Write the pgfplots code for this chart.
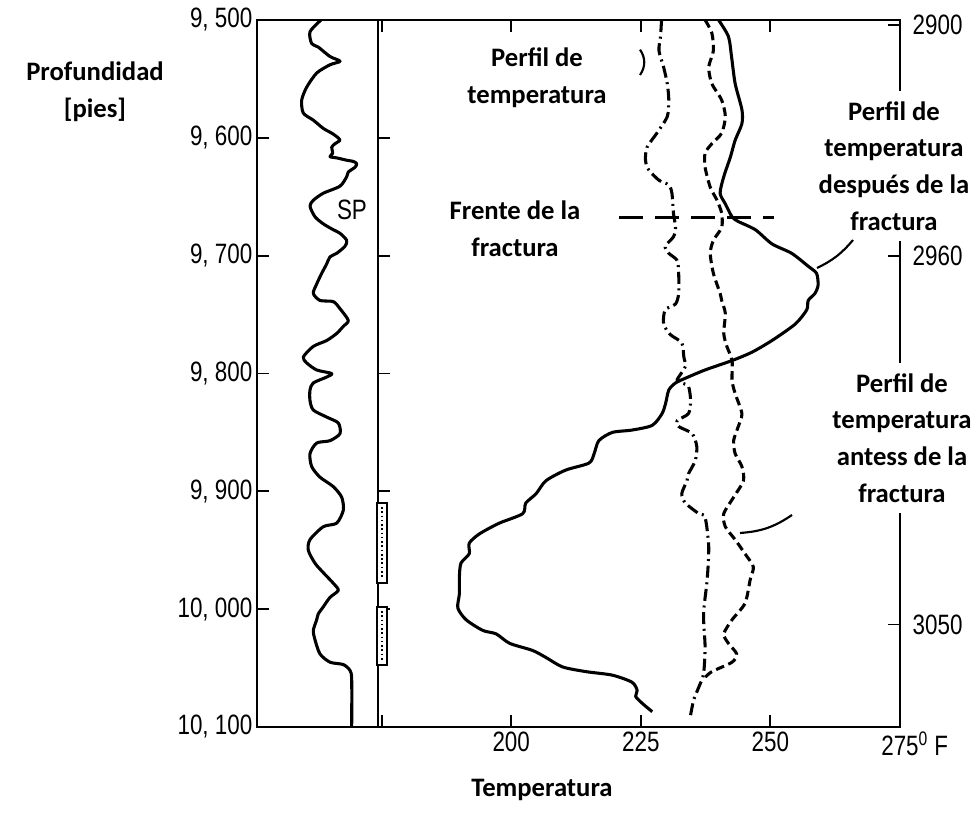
\documentclass[border=0pt]{standalone}
\usepackage{pgfplots}
\pgfplotsset{compat=1.18}
\usepackage{fontspec}
\setmainfont{Carlito}
\newfontfamily\cond[FakeStretch=0.8]{Liberation Sans}
\newcommand\tickfont{\cond\fontsize{21}{24}\selectfont}

\begin{document}
\begin{tikzpicture}
% page = 971 x 813 px, 1 px = 0.75pt, origin at lower left corner of temperature track
\useasboundingbox (-283.5pt,-64.5pt) rectangle (444.75pt,545.25pt);

\pgfplotsset{
  track/.style={
    scale only axis, height=530.25pt,
    y dir=reverse, ymin=9500, ymax=10100,
    axis line style={line width=1.6pt},
    tick style={line width=1.4pt, black},
    tick align=inside, major tick length=9pt,
    ticklabel style={font=\tickfont},
    yticklabel style={inner ysep=0pt},
    clip=false,
  },
  curve/.style={black, line width=2.3pt, smooth, tension=0.45, line join=round},
}

% SP track
\begin{axis}[track, at={(0pt,0pt)}, anchor=south east, width=90.75pt,
  xmin=0, xmax=121, xtick=\empty,
  ytick={9500,9600,9700,9800,9900,10000,10100}, ytick pos=left,
  yticklabels={{9, 500},{9, 600},{9, 700},{9, 800},{9, 900},{10, 000},{10, 100}},
]
\addplot[curve] coordinates {
(64,9500) (53,9510) (54.7,9520) (61.3,9523) (73,9531) (83,9535) (73,9538)
(59.7,9545) (49.7,9557) (44.7,9568) (46.3,9579) (56.3,9585) (66.3,9592)
(74.7,9596) (79.7,9599) (83,9602) (78,9605) (74.7,9608) (75.7,9613) (73,9616)
(79.7,9617) (89.7,9619) (96.3,9620) (99.7,9622) (98,9625) (91.3,9629)
(89.7,9633) (83,9641) (66.3,9647) (56.3,9653) (53,9658) (58,9667) (66.3,9673)
(76.3,9678) (83,9681) (89.7,9687) (88,9692) (79.7,9698) (73,9701) (69.7,9707)
(64.7,9715) (59.7,9724) (56.3,9732) (63,9738) (76.3,9739) (83,9745)
(91.3,9755) (86.3,9760) (79.7,9766) (69.7,9772) (56.3,9777) (46.3,9786)
(49.7,9791) (59.7,9797) (74.7,9800) (69.7,9803) (56.3,9808) (53,9814)
(53,9823) (56.3,9831) (69.7,9837) (81.3,9842) (83,9851) (73,9857) (59.7,9859)
(53,9868) (54.7,9879) (63,9888) (76.3,9896) (84.7,9905) (86.3,9916)
(79.7,9927) (66.3,9930) (53,9941) (51.3,9950) (58,9961) (66.3,9969)
(76.3,9978) (81.3,9984) (73,9990) (66.3,9998) (61.3,10004) (59.7,10009)
(56.3,10018) (58,10026) (63,10038) (73,10045) (86.3,10047) (93,10052)
(94.7,10060) (94.7,10100)
};
\node[font=\tickfont] at (axis cs:95,9661) {SP};
\end{axis}

% temperature track
\begin{axis}[track, at={(0pt,0pt)}, anchor=south west, width=391.5pt,
  xmin=174.3, xmax=275,
  xtick={175,200,225,250,275},
  xticklabels={{},200,225,250,{275\rlap{\textsuperscript{0} F}}},
  xtick pos=both, xticklabel pos=lower,
  ytick={9500,9600,9700,9800,9900,10000,10100}, ytick pos=left,
  yticklabel=\empty,
]
% after fracture
\addplot[curve] coordinates {
(240.0,9500) (241.9,9514) (242.5,9531) (243.2,9554) (244.5,9576) (244.5,9588)
(243.2,9602) (242.3,9616) (241.0,9633) (240.3,9647) (241.3,9656) (242.6,9667)
(243.8,9671) (247.1,9678) (250.3,9690) (254.1,9698) (257.3,9709) (258.9,9715)
(259.2,9725) (258.6,9732) (257.3,9738) (257.0,9746) (254.8,9758) (250.3,9772)
(246.4,9782) (242.6,9789) (237.4,9797) (233.6,9804) (231.7,9808) (230.4,9814)
(229.8,9825) (229.1,9834) (227.2,9844) (223.3,9848) (219.5,9850) (216.9,9857)
(216.0,9868) (215.0,9876) (210.5,9882) (206.7,9891) (204.8,9902) (202.8,9910)
(202.2,9919) (197.7,9927) (193.9,9936) (191.9,9944) (191.9,9953) (190.3,9961)
(190.0,9973) (190.0,9987) (189.7,9999) (191.3,10009) (194.5,10018)
(197.1,10021) (199.7,10029) (204.1,10035) (206.7,10041) (209.9,10049)
(214.4,10053) (219.5,10056) (223.3,10062) (224.3,10069) (224.0,10074)
(225.3,10080) (227.2,10087)
};
% temperature profile (dash-dot)
\addplot[curve, dash pattern=on 9pt off 3.5pt on 1.5pt off 3.5pt] coordinates {
(229.0,9500) (228.8,9514) (228.5,9526) (229.4,9540) (230.1,9554) (230.4,9568)
(230.1,9582) (228.1,9596) (226.2,9608) (225.9,9619) (226.5,9627) (228.5,9636)
(230.4,9640) (231.0,9647) (231.3,9664) (231.7,9676) (231.3,9684) (229.7,9692)
(230.4,9698) (232.0,9704) (232.3,9715) (232.3,9732) (231.7,9741) (229.7,9746)
(229.4,9758) (230.7,9767) (232.9,9774) (233.3,9786) (233.6,9794) (232.3,9803)
(232.0,9806) (232.9,9808) (234.2,9811) (234.6,9823) (234.2,9834) (232.0,9840)
(232.3,9845) (234.9,9851) (235.8,9862) (235.5,9874) (234.2,9885) (233.9,9891)
(232.9,9902) (233.6,9910) (236.2,9919) (237.4,9922) (238.1,9947) (237.8,9975)
(237.1,10004) (237.4,10032) (237.1,10055) (236.2,10066) (235.2,10077)
(234.6,10090)
};
% before fracture (dashed)
\addplot[curve, dash pattern=on 6.5pt off 3.5pt] coordinates {
(237.4,9500) (238.7,9511) (239.0,9526) (238.1,9540) (238.7,9554) (240.6,9568)
(241.3,9582) (240.6,9596) (238.7,9605) (237.4,9613) (237.4,9625) (238.4,9642)
(239.7,9653) (240.6,9664) (240.6,9676) (239.0,9687) (238.4,9698) (239.0,9715)
(240.3,9732) (240.6,9738) (241.3,9749) (241.0,9766) (241.6,9777) (242.6,9789)
(242.6,9806) (243.2,9817) (244.5,9834) (243.8,9845) (242.9,9857) (243.2,9868)
(244.5,9879) (244.8,9891) (242.9,9905) (241.0,9919) (241.3,9930) (243.2,9941)
(245.1,9953) (246.7,9964) (246.1,9975) (245.1,9995) (242.6,10009)
(241.0,10021) (241.9,10029) (243.5,10038) (242.6,10045) (238.7,10053)
(237.4,10058)
};
% fracture front
\addplot[black, line width=2.3pt, dash pattern=on 18pt off 9pt] coordinates {
(220.8,9668) (250.6,9668)
};
\end{axis}

% right scale (metres)
\begin{axis}[track, at={(0pt,0pt)}, anchor=south west, width=391.5pt,
  xmin=174.3, xmax=275, axis x line=none, axis y line*=right,
  ytick={9504,9700,10013}, yticklabels={2900,2960,3050},
  yticklabel style={xshift=6pt},
]
\end{axis}

% perforations
\draw[line width=1pt, fill=white] (-0.75pt,168pt) rectangle (6.75pt,108pt);
\draw[line width=1.2pt, dotted] (3pt,165pt) -- (3pt,111pt);
\draw[line width=1pt, fill=white] (-0.75pt,90pt) rectangle (6.75pt,46.5pt);
\draw[line width=1.2pt, dotted] (3pt,87pt) -- (3pt,49.5pt);

\tikzset{lab/.style={font=\bfseries\fontsize{20}{27.5}\selectfont, align=center}}
\node[lab] at (-212.25pt,476.25pt) {Profundidad\\{[pies]}};
\node[lab, fill=white, inner sep=2pt] at (119.25pt,486.75pt) {Perfil de\\temperatura};
\draw[line width=1.6pt] (196.5pt,508pt) to[bend left=35] (196.5pt,489pt);
\node[lab] at (102.75pt,373.5pt) {Frente de la\\fractura};
\node[lab, fill=white, inner xsep=4pt, inner ysep=8pt] at (387pt,420.75pt)
  {Perfil de\\temperatura\\después de la\\fractura};
\node[lab, fill=white, inner xsep=4pt, inner ysep=8pt] at (393pt,216.75pt)
  {Perfil de\\temperatura\\antess de la\\fractura};
\node[lab] at (123pt,-47.25pt) {Temperatura};

% leaders
\draw[line width=1.6pt] (356.25pt,365.25pt) to[bend left=12] (329.25pt,344.25pt);
\draw[line width=1.6pt] (310.5pt,159pt) to[bend left=15] (271.5pt,145.5pt);
\end{tikzpicture}
\end{document}
